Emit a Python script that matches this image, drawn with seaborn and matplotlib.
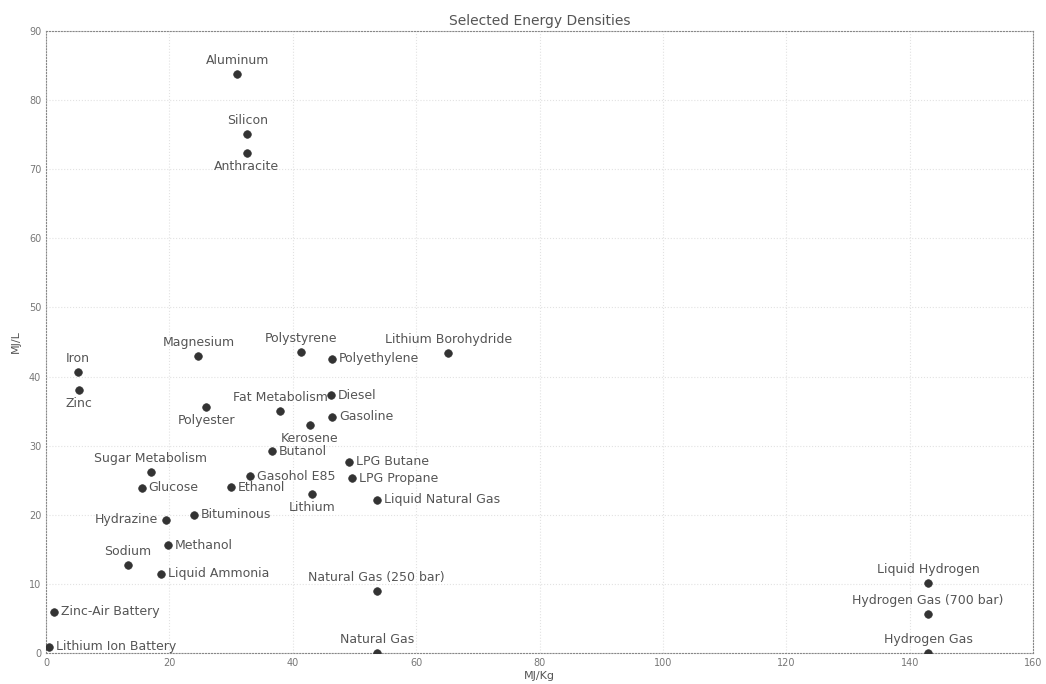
import matplotlib
matplotlib.use("Agg")
import matplotlib.pyplot as plt
import seaborn as sns
import pandas as pd

names = ["Aluminum", "Silicon", "Anthracite", "Magnesium", "Polystyrene", "Polyethylene",
         "Lithium Borohydride", "Iron", "Zinc", "Fat Metabolism", "Diesel", "Gasoline",
         "Polyester", "Kerosene", "Butanol", "LPG Butane", "LPG Propane", "Gasohol E85",
         "Sugar Metabolism", "Glucose", "Ethanol", "Lithium", "Liquid Natural Gas",
         "Hydrazine", "Bituminous", "Methanol", "Sodium", "Liquid Ammonia",
         "Natural Gas (250 bar)", "Zinc-Air Battery", "Lithium Ion Battery", "Natural Gas",
         "Liquid Hydrogen", "Hydrogen Gas (700 bar)", "Hydrogen Gas"]
mj_per_kg = [31.0, 32.6, 32.5, 24.7, 41.4, 46.3,
             65.2, 5.2, 5.3, 38.0, 46.2, 46.4,
             26.0, 42.8, 36.6, 49.1, 49.6, 33.1,
             17.0, 15.5, 30.0, 43.1, 53.6,
             19.5, 24.0, 19.7, 13.3, 18.6,
             53.6, 1.3, 0.5, 53.6,
             143.0, 143.0, 143.0]
mj_per_l = [83.8, 75.1, 72.4, 43.0, 43.5, 42.6,
            43.4, 40.7, 38.0, 35.0, 37.3, 34.2,
            35.6, 33.0, 29.2, 27.7, 25.3, 25.6,
            26.2, 23.9, 24.0, 23.0, 22.2,
            19.3, 20.0, 15.6, 12.8, 11.5,
            9.0, 6.0, 0.9, 0.04,
            10.1, 5.6, 0.01]
label_side = ["a", "a", "b", "a", "a", "r",
              "a", "a", "b", "a", "r", "r",
              "b", "b", "r", "r", "r", "r",
              "a", "r", "r", "b", "r",
              "l", "r", "r", "a", "r",
              "a", "r", "r", "a",
              "a", "a", "a"]

df = pd.DataFrame({"name": names, "MJ/Kg": mj_per_kg, "MJ/L": mj_per_l})

sns.set_style("white")
plt.rcParams["font.family"] = ["DejaVu Sans"]

fig = plt.figure(figsize=(10.46, 6.84), dpi=100)
ax = fig.add_axes([0.044, 0.0453, 0.9436, 0.9094])

sns.scatterplot(data=df, x="MJ/Kg", y="MJ/L", ax=ax, color="#333333", s=30,
                edgecolor="#333333", linewidth=0.5, zorder=3)

txt_color = "#555555"
for n, x, y, side in zip(names, mj_per_kg, mj_per_l, label_side):
    if side == "a":
        off, ha, va = (0, 5), "center", "bottom"
    elif side == "b":
        off, ha, va = (0, -5), "center", "top"
    elif side == "r":
        off, ha, va = (5, 0), "left", "center"
    else:
        off, ha, va = (-6, 0), "right", "center"
    ax.annotate(n, (x, y), xytext=off, textcoords="offset points", ha=ha, va=va,
                fontsize=9, color=txt_color, zorder=4)

ax.set_xlim(0, 160)
ax.set_ylim(0, 90)
ax.set_xticks(range(0, 161, 20))
ax.set_yticks(range(0, 91, 10))
ax.tick_params(axis="both", direction="in", labelsize=7, colors="#888888",
               labelcolor="#777777", length=4)
ax.grid(True, linestyle=":", color="#e2e2e2", linewidth=0.8)
for sp in ax.spines.values():
    sp.set_color("#888888")
    sp.set_linewidth(0.8)
    sp.set_linestyle(":")

ax.set_title("Selected Energy Densities", fontsize=10, color="#555555", pad=4)
ax.set_xlabel("MJ/Kg", fontsize=8, color="#555555", labelpad=2)
ax.set_ylabel("MJ/L", fontsize=8, color="#555555", labelpad=6)

fig.savefig("out.png", dpi=100)
